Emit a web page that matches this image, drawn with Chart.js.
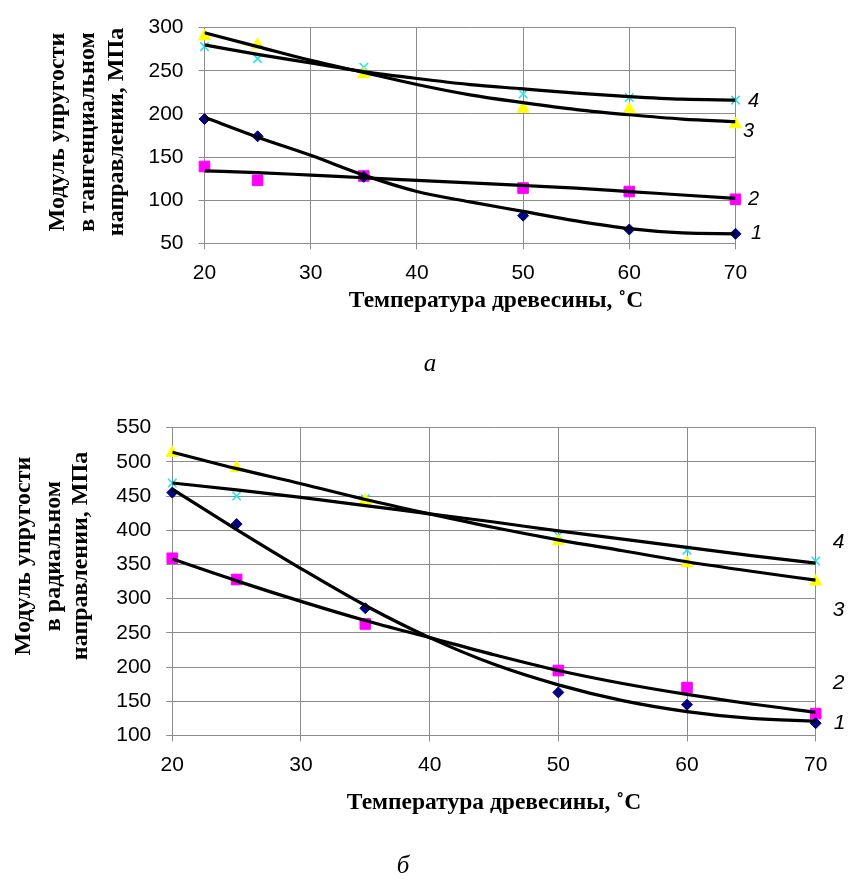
<!DOCTYPE html>
<html lang="ru">
<head>
<meta charset="utf-8">
<title>Модуль упругости древесины</title>
<script src="https://cdn.jsdelivr.net/npm/chart.js@4.4.1/dist/chart.umd.min.js"></script>
<style>
  html, body { margin: 0; padding: 0; background: #fff; }
  .panel { position: absolute; left: 0; width: 848px; }
  #top { top: 0; height: 400px; }
  #bottom { top: 400px; height: 482px; }
</style>
</head>
<body>
<div class="panel" id="top"><canvas id="chartA"></canvas></div>
<div class="panel" id="bottom"><canvas id="chartB"></canvas></div>
<script>
// measured temperatures and fitted-curve sample temperatures
const temps = [20, 25, 35, 50, 60, 70];
const fitTemps = [20, 25, 30, 35, 40, 45, 50, 55, 60, 65, 70];
const seriesNames = ['1', '2', '3', '4'];

// (a) tangential direction, MPa
const tanS1 = [194, 174, 127, 82, 66, 61];
const tanS2 = [139, 123, 128, 114, 110, 101];
const tanS3 = [290, 280, 246, 206, 205, 188];
const tanS4 = [278, 264, 254, 223, 219, 216];
const tanFit1 = [196, 173, 152, 129, 110, 98, 87, 76, 67, 62, 61];
const tanFit2 = [134, 132, 129, 126, 123, 120, 117, 114, 110, 106, 102];
const tanFit3 = [294, 278, 262, 248, 234, 222, 213, 205, 199, 194, 191];
const tanFit4 = [280, 269, 259, 249, 241, 234, 229, 224, 220, 217, 216];
const tanTicksY = [50, 100, 150, 200, 250, 300];

// (б) radial direction, MPa
const radS1 = [455, 409, 286, 163, 145, 118];
const radS2 = [359, 328, 263, 195, 170, 132];
const radS3 = [513, 491, 443, 384, 352, 325];
const radS4 = [469, 450, 446, 392, 371, 355];
const radFit1 = [460, 401, 344, 290, 243, 204, 174, 151, 135, 125, 121];
const radFit2 = [358, 326, 296, 268, 243, 218, 195, 176, 160, 146, 134];
const radFit3 = [514, 490, 468, 445, 424, 404, 386, 370, 354, 340, 327];
const radFit4 = [469, 459, 448, 436, 424, 412, 399, 387, 375, 363, 352];
const radTicksY = [100, 150, 200, 250, 300, 350, 400, 450, 500, 550];

const xTitle = 'Температура древесины, ˚С';

const markerStyles = ['rectRot', 'rect', 'triangle', 'crossRot'];
const markerColors = ['#000080', '#ff00ff', '#ffff00', '#22e4ee'];
const markerSizes = [5.5, 7.5, 7, 6];
const gridColor = '#8c8c8c';

// draws the axis titles, the curve numbers and the panel letter
const sideText = {
  id: 'sideText',
  afterDraw(chart, args, o) {
    const ctx = chart.ctx;
    const area = chart.chartArea;
    const ys = chart.scales.y;
    ctx.save();
    ctx.fillStyle = '#000';
    ctx.textAlign = 'center';
    ctx.textBaseline = 'middle';

    ctx.font = o.numFont;
    o.numbers.forEach(n => ctx.fillText(n.text, area.right + n.dx, ys.getPixelForValue(n.at)));

    ctx.font = o.titleFont;
    o.yTitle.forEach((line, i) => {
      ctx.save();
      ctx.translate(o.yTitleX[i], o.yTitleY);
      ctx.rotate(-Math.PI / 2);
      ctx.fillText(line, 0, 0);
      ctx.restore();
    });
    ctx.font = o.xTitleFont;
    ctx.fillText(xTitle, o.xTitleX, o.xTitleY);

    ctx.font = o.captionFont;
    ctx.fillText(o.caption, o.captionX, o.captionY);
    ctx.restore();
  }
};

function buildDatasets(points, fits) {
  const sets = [];
  fits.forEach((fit, i) => {
    sets.push({
      type: 'line',
      label: 'Тренд ' + seriesNames[i],
      data: fitTemps.map((t, j) => ({x: t, y: fit[j]})),
      borderColor: '#000',
      borderWidth: 3.2,
      pointRadius: 0,
      cubicInterpolationMode: 'monotone',
      order: 0
    });
  });
  points.forEach((vals, i) => {
    sets.push({
      type: 'scatter',
      label: seriesNames[i],
      data: temps.map((t, j) => ({x: t, y: vals[j]})),
      pointStyle: markerStyles[i],
      pointRadius: markerSizes[i],
      backgroundColor: markerColors[i],
      borderColor: markerColors[i],
      borderWidth: i === 3 ? 1.6 : 1,
      clip: false,
      order: 1
    });
  });
  return sets;
}

function makeChart(id, points, fits, ticksY, geo, text) {
  const tickFont = {family: 'Liberation Sans', size: 21};
  return new Chart(document.getElementById(id), {
    type: 'scatter',
    data: {datasets: buildDatasets(points, fits)},
    options: {
      responsive: true,
      maintainAspectRatio: false,
      animation: false,
      layout: {padding: {left: 0, right: geo.right, top: geo.top, bottom: 0}},
      plugins: {
        legend: {display: false},
        tooltip: {enabled: false},
        sideText: text
      },
      scales: {
        x: {
          type: 'linear',
          min: 20,
          max: 70,
          ticks: {stepSize: 10, font: tickFont, color: '#000', padding: 11.5},
          grid: {color: gridColor, tickColor: gridColor, tickLength: 6},
          border: {color: gridColor},
          afterFit: s => { s.height = geo.xHeight; }
        },
        y: {
          type: 'linear',
          min: ticksY[0],
          max: ticksY[ticksY.length - 1],
          afterBuildTicks: s => { s.ticks = ticksY.map(v => ({value: v})); },
          ticks: {font: tickFont, color: '#000', padding: 15},
          grid: {color: gridColor, tickColor: gridColor, tickLength: 6},
          border: {color: gridColor},
          afterFit: s => { s.width = geo.yWidth; }
        }
      }
    },
    plugins: [sideText]
  });
}

makeChart('chartA',
  [tanS1, tanS2, tanS3, tanS4],
  [tanFit1, tanFit2, tanFit3, tanFit4],
  tanTicksY,
  {right: 112.5, top: 15.7, xHeight: 156.7, yWidth: 204.5},
  {
    numFont: 'italic 20px "Liberation Sans"',
    numbers: [
      {text: seriesNames[3], at: 215, dx: 18},
      {text: seriesNames[2], at: 180, dx: 13},
      {text: seriesNames[1], at: 101, dx: 18},
      {text: seriesNames[0], at: 61, dx: 21}
    ],
    titleFont: 'bold 24px "Liberation Serif"',
    yTitle: ['Модуль упругости', 'в тангенциальном', 'направлении, МПа'],
    yTitleX: [58, 88, 117],
    yTitleY: 132,
    xTitleFont: 'bold 23.5px "Liberation Serif"',
    xTitleX: 496,
    xTitleY: 301,
    captionFont: 'italic 25px "Liberation Serif"',
    caption: 'а',
    captionX: 430,
    captionY: 364
  });

makeChart('chartB',
  [radS1, radS2, radS3, radS4],
  [radFit1, radFit2, radFit3, radFit4],
  radTicksY,
  {right: 32.3, top: 25, xHeight: 146.5, yWidth: 172.3},
  {
    numFont: 'italic 21px "Liberation Sans"',
    numbers: [
      {text: seriesNames[3], at: 383, dx: 23},
      {text: seriesNames[2], at: 283, dx: 23},
      {text: seriesNames[1], at: 176, dx: 23},
      {text: seriesNames[0], at: 118, dx: 24}
    ],
    titleFont: 'bold 24px "Liberation Serif"',
    yTitle: ['Модуль упругости', 'в радиальном', 'направлении, МПа'],
    yTitleX: [24, 54, 81],
    yTitleY: 156,
    xTitleFont: 'bold 23.5px "Liberation Serif"',
    xTitleX: 494,
    xTitleY: 403,
    captionFont: 'italic 25px "Liberation Serif"',
    caption: 'б',
    captionX: 403,
    captionY: 466
  });
</script>
</body>
</html>
